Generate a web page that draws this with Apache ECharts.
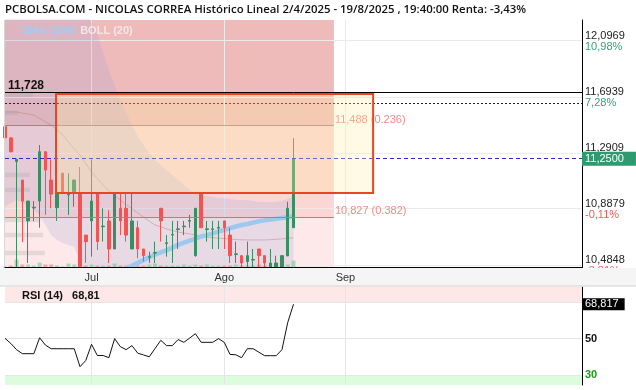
<!DOCTYPE html>
<html><head><meta charset="utf-8">
<script src="https://cdn.jsdelivr.net/npm/echarts@6/dist/echarts.min.js"></script>
<style>html,body{margin:0;padding:0;background:#fff}#c{width:636px;height:390px}</style>
</head><body><div id="c"></div>
<script>
// ---------- data ----------
const dates = ['2025-06-10','2025-06-11','2025-06-12','2025-06-13','2025-06-16','2025-06-17','2025-06-18','2025-06-19','2025-06-20','2025-06-23','2025-06-24','2025-06-25','2025-06-26','2025-06-27','2025-06-30',
'2025-07-01','2025-07-02','2025-07-03','2025-07-04','2025-07-07','2025-07-08','2025-07-09','2025-07-10','2025-07-11','2025-07-14','2025-07-15','2025-07-16','2025-07-17','2025-07-18','2025-07-21','2025-07-22','2025-07-23','2025-07-24','2025-07-25','2025-07-28','2025-07-29','2025-07-30','2025-07-31',
'2025-08-01','2025-08-04','2025-08-05','2025-08-06','2025-08-07','2025-08-08','2025-08-11','2025-08-12','2025-08-13','2025-08-14','2025-08-15','2025-08-18','2025-08-19'];
const futureSlots = 50;               // empty trading days to the right of the last candle
const monthTicks = [15, 38, 59];      // first trading day of Jul, Ago, Sep
const monthNames = ['Jul', 'Ago', 'Sep'];

const opens  = [11.48,11.40,11.23,11.096,10.802,10.895,10.945,11.30,11.096,10.897,11.145,10.99,11.012,10.996,10.70,10.802,10.996,10.76,10.802,10.60,10.893,10.893,10.60,10.753,10.60,10.54,10.57,10.893,10.64,10.70,10.74,10.76,10.80,10.552,11.0,10.74,10.74,10.75,10.802,10.70,10.56,10.552,10.51,10.52,10.60,10.552,10.47,10.47,10.47,10.55,10.753];
const closes = [11.40,11.30,11.245,10.945,10.945,10.90,11.30,11.168,10.995,10.996,11.0,10.995,11.096,10.472,10.653,10.945,10.653,10.765,10.60,10.996,10.802,10.70,10.802,10.60,10.552,10.545,10.575,10.802,10.645,10.705,10.745,10.765,10.805,10.893,10.753,10.745,10.745,10.755,10.753,10.552,10.565,10.499,10.552,10.525,10.552,10.499,10.499,10.499,10.552,10.893,11.25];
const lows   = [11.38,11.295,10.47,10.65,10.499,10.80,10.753,10.845,10.893,10.802,11.0,10.845,10.904,10.47,10.50,10.545,10.593,10.653,10.499,10.60,10.70,10.653,10.60,10.533,10.51,10.50,10.499,10.653,10.545,10.499,10.60,10.70,10.753,10.545,10.753,10.653,10.60,10.60,10.60,10.499,10.499,10.47,10.47,10.47,10.47,10.47,10.47,10.47,10.47,10.55,10.753];
const highs  = [11.50,11.40,11.25,11.096,10.945,10.945,11.348,11.30,11.245,11.02,11.145,11.145,11.10,11.19,10.70,11.245,10.996,10.893,10.88,10.996,10.996,10.996,10.996,10.802,10.60,10.58,10.653,10.893,10.70,10.802,10.802,10.802,10.845,10.893,11.0,10.802,10.802,10.802,10.802,10.753,10.653,10.552,10.653,10.60,10.60,10.552,10.60,10.552,10.552,10.94,11.397];
const volume = [1,2,8,3,3,2,5,3,3,2,1,4,3,6,2,3,2,2,2,4,2,2,2,2,2,3,4,2,2,2,2,3,2,3,2,3,2,2,2,2,3,2,2,2,3,2,2,2,3,3,7];

const bbUpper = [12.284,12.291,12.298,12.305,12.305,12.305,12.312,12.312,12.32,12.32,12.32,12.32,12.312,12.305,12.284,12.234,12.14,12.018,11.888,11.78,11.672,11.578,11.492,11.413,11.348,11.291,11.24,11.204,11.168,11.132,11.096,11.06,11.024,11.003,10.988,10.981,10.974,10.967,10.967,10.96,10.953,10.953,10.953,10.945,10.938,10.938,10.938,10.938,10.945,10.96,10.981];
const bbMid   = [11.586,11.586,11.586,11.578,11.571,11.564,11.54,11.515,11.492,11.456,11.42,11.37,11.32,11.276,11.215,11.154,11.107,11.06,11.02,10.985,10.953,10.92,10.89,10.859,10.83,10.80,10.773,10.76,10.745,10.733,10.722,10.715,10.708,10.70,10.693,10.686,10.682,10.678,10.675,10.672,10.668,10.666,10.665,10.665,10.665,10.665,10.667,10.67,10.673,10.677,10.68];
const bbLower = [10.902,10.931,10.953,10.931,10.909,10.881,10.838,10.773,10.701,10.665,10.643,10.629,10.614,10.506,10.40,10.33,10.30,10.27,10.25,10.24,10.234,10.25,10.27,10.29,10.30,10.31,10.32,10.33,10.34,10.345,10.348,10.355,10.36,10.365,10.37,10.375,10.38,10.38,10.383,10.383,10.383,10.38,10.38,10.38,10.38,10.38,10.38,10.38,10.38,10.38,10.379];
const sma100  = [null,null,null,null,null,null,null,null,null,null,null,null,null,null,null,null,null,null,10.37,10.40,10.425,10.46,10.48,10.50,10.52,10.54,10.56,10.575,10.59,10.61,10.63,10.645,10.66,10.675,10.69,10.70,10.713,10.725,10.737,10.75,10.762,10.773,10.78,10.79,10.80,10.806,10.812,10.818,10.823,10.829,10.835];
const rsi     = [50.2,47.4,44,41.8,41.8,41.8,50.5,46.5,44.5,44.5,44.5,44.5,44.5,34.7,38.1,46.9,40.8,40.8,39.6,50,45.6,44,46.2,42.1,41.1,40.1,44.6,49.1,46.2,46.2,49.5,48,50.3,52.7,48,48,48,50,48,41.4,41.2,39.6,44.5,44.5,42.6,40.7,40.7,40.7,44,58.8,68.817];

// volume-by-price profile (left edge): price bin centre and relative volume
const profilePrice = [11.708, 11.579, 11.133, 11.025, 10.809, 10.701, 10.571];
const profileVol   = [4.9, 2.3, 4.3, 4.3, 6.1, 6.6, 6.9];
const profileHalf  = 0.016;

const priceTicks = [10.4848, 10.8879, 11.2909, 11.6939, 12.0969];
const pctText    = ['-3,81%', '-0,11%', '', '7,28%', '10,98%'];
const rsiTicks   = [30, 50];
const lastPrice  = 11.25;
const lastRsi    = 68.817;
const rsiHeader  = 'RSI (14)   68,81';
const highLevel  = 11.728;
const dottedLevel = 11.6485;
const fibLevels  = [11.488, 10.827];
const fibRatios  = ['0.236', '0.382'];
const fibEnd     = 57;
const boxX = [8.84, 63.8];
const boxY = [11.003, 11.7155];
const yMin = 10.4668, yMax = 12.248;
const rsiMin = 24.7, rsiMax = 78.2;

// ---------- build ----------
const cats = dates.slice();
for (let i = 0; i < futureSlots; i++) cats.push('f' + i);
const lastIdx = cats.length - 1;
const fmt = (v, d) => v.toFixed(d).replace('.', ',');
const UP = '#3b8e64', DN = '#f35353';
const candleData = opens.map((o, i) => [o, closes[i], lows[i], highs[i]]);
const volData = volume.map((v, i) => ({ value: v, itemStyle: { color: closes[i] >= opens[i] ? 'rgba(120,200,150,0.6)' : 'rgba(240,110,110,0.55)' } }));
const bbWidth = bbUpper.map((u, i) => +(u - bbLower[i]).toFixed(4));
const profileAreas = profilePrice.map((p, i) => [{ coord: [0, p - profileHalf] }, { coord: [profileVol[i], p + profileHalf] }]);
const FF = 'Liberation Sans, Arial, sans-serif';

const fibLabel = (i) => ({
  show: true, position: 'end', distance: 1,
  formatter: '{t|' + fmt(fibLevels[i], 3) + ' (' + fibRatios[i] + ')}\n{s| }',
  rich: { t: { color: '#f38a8a', fontSize: 11, lineHeight: 12, fontFamily: FF },
          s: { fontSize: 11, lineHeight: 12 } }
});

const chart = echarts.init(document.getElementById('c'), null, { renderer: 'canvas' });
chart.setOption({
  animation: false,
  backgroundColor: '#fff',
  textStyle: { fontFamily: FF },
  title: [
    { text: 'PCBOLSA.COM - NICOLAS CORREA Histórico Lineal 2/4/2025 - 19/8/2025 , 19:40:00 Renta: -3,43%',
      left: 5, top: 4, padding: 0,
      textStyle: { fontFamily: 'Open Sans', fontSize: 11.4, fontWeight: 600, color: '#111' } },
    { text: '{a|SMA (100)} {b|BOLL (20)}', left: 22, top: 22, padding: 0,
      textStyle: { rich: { a: { fontSize: 11, fontWeight: 'bold', color: '#a3ccf2', fontFamily: FF },
                           b: { fontSize: 11, fontWeight: 'bold', color: '#f5e6e6', fontFamily: FF } } } },
    { text: rsiHeader, left: 22, top: 290, padding: 0,
      textStyle: { fontSize: 11, fontWeight: 'bold', color: '#111', fontFamily: FF } }
  ],
  graphic: [
    { type: 'rect', shape: { x: 0, y: 268, width: 636, height: 18 }, style: { fill: '#f5f5f5' }, z: 50, silent: true },
    { type: 'line', shape: { x1: 0, y1: 286, x2: 636, y2: 286 }, style: { stroke: '#dedede', lineWidth: 1.5 }, z: 51, silent: true },
    { type: 'line', shape: { x1: 4.5, y1: 20, x2: 4.5, y2: 268 }, style: { stroke: '#d8d8d8', lineWidth: 1 }, z: 51, silent: true }
  ],
  grid: [
    { left: 5, right: 54, top: 20, height: 247.5 },
    { left: 5, right: 54, top: 287, height: 98 }
  ],
  xAxis: [
    { type: 'category', gridIndex: 0, data: cats, boundaryGap: false, z: 60,
      axisLine: { onZero: false, lineStyle: { color: '#000', width: 1 } }, axisTick: { show: false },
      axisLabel: { interval: (i) => monthTicks.indexOf(i) >= 0,
                   formatter: (v, i) => { const j = monthTicks.indexOf(i); return j >= 0 ? monthNames[j] : ''; },
                   fontSize: 11, color: '#333', margin: 5 },
      splitLine: { show: false } },
    { type: 'value', gridIndex: 0, min: 0, max: lastIdx, show: false, axisLine: { onZero: false } },
    { type: 'category', gridIndex: 1, data: cats, boundaryGap: false, show: false, axisLine: { onZero: false } },
    { type: 'value', gridIndex: 1, min: 0, max: lastIdx, show: false, axisLine: { onZero: false } }
  ],
  yAxis: [
    { type: 'value', gridIndex: 0, position: 'right', min: yMin, max: yMax, scale: true,
      axisLine: { show: true, onZero: false, lineStyle: { color: '#000', width: 1 } }, axisTick: { show: false },
      splitLine: { show: false },
      axisLabel: { customValues: priceTicks, margin: 3,
        formatter: (v) => {
          const i = priceTicks.findIndex(t => Math.abs(t - v) < 1e-6);
          const p = i >= 0 ? pctText[i] : '';
          const key = p.charAt(0) === '-' ? 'r' : 'g';
          return '{p|' + fmt(v, 4) + '}\n{' + key + '|' + (p || ' ') + '}';
        },
        rich: { p: { fontSize: 11, color: '#222', lineHeight: 11, fontFamily: FF },
                g: { fontSize: 11, color: '#35a276', lineHeight: 11, fontFamily: FF },
                r: { fontSize: 11, color: '#f05a5a', lineHeight: 11, fontFamily: FF } } } },
    { type: 'value', gridIndex: 0, min: 0, max: 250, show: false, axisLine: { onZero: false } },
    { type: 'value', gridIndex: 1, position: 'right', min: rsiMin, max: rsiMax,
      axisLine: { show: true, onZero: false, lineStyle: { color: '#000', width: 1 } }, axisTick: { show: false },
      splitLine: { show: false },
      axisLabel: { customValues: rsiTicks, margin: 3,
        formatter: (v) => v === 30 ? '{g|30}' : '{k|' + v + '}',
        rich: { g: { fontSize: 11, fontWeight: 'bold', color: '#18a018', fontFamily: FF },
                k: { fontSize: 11, fontWeight: 'bold', color: '#111', fontFamily: FF } } } }
  ],
  series: [
    // fibonacci zones
    { type: 'line', xAxisIndex: 1, yAxisIndex: 0, data: [], silent: true,
      markArea: { silent: true, z: 1, data: [
        [{ coord: [0, fibLevels[0]], itemStyle: { color: '#efbaba' } }, { coord: [fibEnd, yMax] }],
        [{ coord: [0, fibLevels[1]], itemStyle: { color: '#fcd5d5' } }, { coord: [fibEnd, fibLevels[0]] }],
        [{ coord: [0, yMin], itemStyle: { color: '#fde9e9' } }, { coord: [fibEnd, fibLevels[1]] }]
      ] } },
    // grid lines
    { type: 'line', xAxisIndex: 1, yAxisIndex: 0, data: [], silent: true,
      markLine: { silent: true, z: 2, symbol: 'none', label: { show: false },
        lineStyle: { color: '#ebebeb', type: 'solid', width: 1 },
        data: priceTicks.map(v => ({ yAxis: v })).concat(monthTicks.map(k => ({ xAxis: k }))) } },
    // volume profile
    { type: 'line', xAxisIndex: 1, yAxisIndex: 0, data: [], silent: true,
      markArea: { silent: true, z: 2, itemStyle: { color: 'rgba(150,150,150,0.22)' }, data: profileAreas } },
    // Bollinger band fill
    { type: 'line', xAxisIndex: 0, yAxisIndex: 0, data: bbLower, stack: 'bb', symbol: 'none', silent: true,
      lineStyle: { opacity: 0 }, z: 2 },
    { type: 'line', xAxisIndex: 0, yAxisIndex: 0, data: bbWidth, stack: 'bb', symbol: 'none', silent: true,
      lineStyle: { opacity: 0 }, areaStyle: { color: 'rgba(150,165,215,0.3)' }, z: 2 },
    { type: 'line', xAxisIndex: 0, yAxisIndex: 0, data: bbMid, symbol: 'none', silent: true,
      lineStyle: { color: 'rgba(190,120,120,0.45)', width: 1 }, z: 2 },
    // SMA 100
    { type: 'line', xAxisIndex: 0, yAxisIndex: 0, data: sma100, symbol: 'none', silent: true,
      lineStyle: { color: '#9fc8ef', width: 4.5 }, z: 3 },
    // volume
    { type: 'bar', xAxisIndex: 0, yAxisIndex: 1, data: volData, barWidth: 4, silent: true, z: 3 },
    // candles
    { type: 'candlestick', xAxisIndex: 0, yAxisIndex: 0, data: candleData, barWidth: 3, z: 4,
      itemStyle: { color: UP, color0: DN, borderColor: UP, borderColor0: DN, borderWidth: 1 } },
    // levels
    { type: 'line', xAxisIndex: 1, yAxisIndex: 0, data: [], silent: true,
      markLine: { silent: true, z: 5, symbol: 'none', data: [
        [{ coord: [0, fibLevels[0]], lineStyle: { color: '#a58484', width: 1, type: 'solid' }, label: fibLabel(0) },
         { coord: [fibEnd, fibLevels[0]] }],
        [{ coord: [0, fibLevels[1]], lineStyle: { color: '#a58484', width: 1, type: 'solid' }, label: fibLabel(1) },
         { coord: [fibEnd, fibLevels[1]] }],
        { yAxis: highLevel, lineStyle: { color: '#000', width: 1, type: 'solid' },
          label: { show: true, position: 'insideStartTop', distance: 1, formatter: fmt(highLevel, 3),
                   color: '#111', fontSize: 12, fontWeight: 'bold', lineHeight: 10, padding: [0, 0, 0, 2] } },
        { yAxis: dottedLevel, lineStyle: { color: '#222', width: 1, type: [2, 2] }, label: { show: false } },
        { yAxis: lastPrice, lineStyle: { color: '#2a2ad0', width: 1, type: [4, 3] },
          label: { show: true, position: 'end', distance: 0, formatter: fmt(lastPrice, 4),
                   backgroundColor: '#2e9a6f', color: '#fff', fontSize: 11, padding: [2, 12, 1, 3] } }
      ] } },
    // analysis box
    { type: 'line', xAxisIndex: 1, yAxisIndex: 0, data: [], silent: true,
      markArea: { silent: true, z: 6, data: [
        [{ coord: [boxX[0], boxY[1]], itemStyle: { color: 'rgba(255,239,162,0.3)', borderColor: '#e8461f', borderWidth: 2 } },
         { coord: [boxX[1], boxY[0]] }]
      ] } },
    // RSI panel zones & grid
    { type: 'line', xAxisIndex: 3, yAxisIndex: 2, data: [], silent: true,
      markArea: { silent: true, z: 1, data: [
        [{ yAxis: 70, itemStyle: { color: '#fde7e7' } }, { yAxis: rsiMax }],
        [{ yAxis: rsiMin, itemStyle: { color: '#ddfcdd' } }, { yAxis: 30 }]
      ] } },
    { type: 'line', xAxisIndex: 3, yAxisIndex: 2, data: [], silent: true,
      markLine: { silent: true, z: 2, symbol: 'none', label: { show: false },
        lineStyle: { color: '#e6e6e6', type: 'solid', width: 1 },
        data: [{ yAxis: 70 }, { yAxis: 50 }, { yAxis: 30 }].concat(monthTicks.map(k => ({ xAxis: k }))) } },
    { type: 'line', xAxisIndex: 2, yAxisIndex: 2, data: rsi, symbol: 'none', silent: true,
      lineStyle: { color: '#111', width: 1 }, z: 3,
      markLine: { silent: true, z: 5, symbol: 'none', data: [
        { yAxis: lastRsi, lineStyle: { color: 'rgba(0,0,0,0)', width: 0 },
          label: { show: true, position: 'end', distance: 0, formatter: fmt(lastRsi, 3),
                   backgroundColor: '#000', color: '#fff', fontSize: 11, padding: [1, 6, 0, 3] } }
      ] } }
  ]
});
</script>
</body></html>
